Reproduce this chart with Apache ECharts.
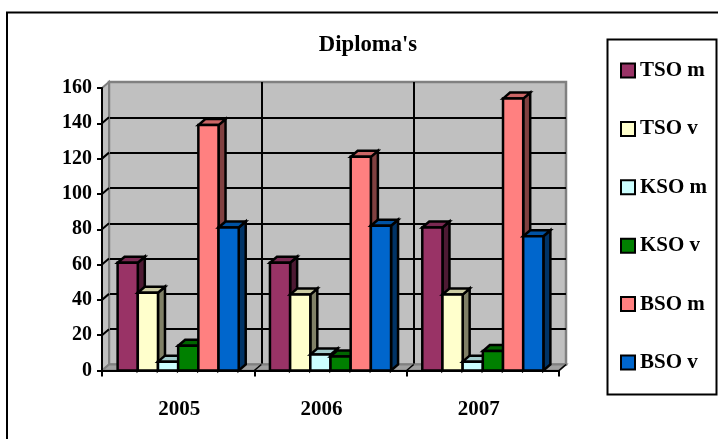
<!DOCTYPE html>
<html><head><meta charset="utf-8">
<style>html,body{margin:0;padding:0;background:#fff}#c{width:718px;height:439px}</style>
<script src="https://cdn.jsdelivr.net/npm/echarts@6/dist/echarts.min.js"></script>
</head><body><div id="c"></div>
<script>
const categories = ['2005','2006','2007'];
const seriesNames = ['TSO m','TSO v','KSO m','KSO v','BSO m','BSO v'];
const tsoM = [61,61,81];
const tsoV = [44,43,43];
const ksoM = [5,9,5];
const ksoV = [14,8,11];
const bsoM = [139,121,154];
const bsoV = [81,82,76];
const allValues = [tsoM,tsoV,ksoM,ksoV,bsoM,bsoV];
const fronts = ['#993366','#FFFFCC','#CCFFFF','#008000','#FF8080','#0066CC'];
const sides  = ['#4D1A33','#808066','#668080','#004000','#804040','#003366'];
const tops   = ['#7A2952','#CCCCA3','#A3CCCC','#006600','#CC6666','#0052A3'];
const yMax = 160, yStep = 20;
const serif = '"Liberation Serif","Times New Roman",serif';
const DX = 7, DY = -6, BX = 7, BY = -6;

const chart = echarts.init(document.getElementById('c'), null, {renderer:'canvas'});

function frameItem(params, api){
  const c = params.coordSys;
  const x0 = c.x, x1 = c.x + c.width, yb = c.y + c.height, yt = c.y;
  const kids = [
    {type:'polygon',shape:{points:[[x0,yt],[x0+DX,yt+DY],[x0+DX,yb+DY],[x0,yb]]},style:{fill:'#C0C0C0',stroke:'#808080',lineWidth:2}},
    {type:'polygon',shape:{points:[[x0,yb],[x0+DX,yb+DY],[x1+DX,yb+DY],[x1,yb]]},style:{fill:'#A0A0A0',stroke:'#808080',lineWidth:2}}
  ];
  for(let v=yStep; v<=yMax-yStep; v+=yStep){
    const p = api.coord([0,v]);
    kids.push({type:'line',shape:{x1:x0,y1:p[1],x2:x0+DX,y2:p[1]+DY},style:{stroke:'#000',lineWidth:2}});
  }
  const catW = api.size([1,0])[0];
  for(let i=1;i<=categories.length;i++){
    const x = x0 + i*catW;
    kids.push({type:'line',shape:{x1:x,y1:yb,x2:x+DX,y2:yb+DY},style:{stroke:'#000',lineWidth:1.5}});
  }
  return {type:'group',children:kids};
}
function barItem(si){
  return function(params, api){
    const ci = api.value(0), v = api.value(1);
    const c = api.coord([ci,v]), b = api.coord([ci,0]);
    const catW = api.size([1,0])[0];
    const w = catW * 0.1325;
    const xl = c[0] + (si-3)*w, xr = xl + w;
    const yt = c[1], yb = b[1];
    const stk = {stroke:'#000',lineWidth:2.5,lineJoin:'miter'};
    return {type:'group',children:[
      {type:'polygon',shape:{points:[[xr,yt],[xr+BX,yt+BY],[xr+BX,yb+BY],[xr,yb]]},style:Object.assign({fill:sides[si]},stk)},
      {type:'polygon',shape:{points:[[xl,yt],[xl+BX,yt+BY],[xr+BX,yt+BY],[xr,yt]]},style:Object.assign({fill:tops[si]},stk)},
      {type:'rect',shape:{x:xl,y:yt,width:w,height:yb-yt},style:Object.assign({fill:fronts[si]},stk)}
    ]};
  };
}
const series = [{
  type:'custom',xAxisIndex:0,yAxisIndex:0,silent:true,clip:false,z:1,
  renderItem:frameItem,data:[[0,0]],tooltip:{show:false}
}];
seriesNames.forEach((n,si)=>{
  series.push({
    name:n,type:'custom',xAxisIndex:0,yAxisIndex:0,clip:false,z:3+si,
    itemStyle:{color:fronts[si],borderColor:'#000',borderWidth:2},
    renderItem:barItem(si),
    encode:{x:0,y:1},
    data:categories.map((c,i)=>[i,allValues[si][i]])
  });
});
chart.setOption({
  animation:false,
  backgroundColor:'#fff',
  title:{text:"Diploma's",left:363,top:29,textAlign:'center',
    textStyle:{fontFamily:serif,fontWeight:'bold',fontSize:22.7,color:'#000'}},
  legend:{orient:'vertical',left:615,top:55,itemWidth:14,itemHeight:14,itemGap:37.4,
    icon:'rect',
    data:seriesNames,selectedMode:false,
    textStyle:{fontFamily:serif,fontWeight:'bold',fontSize:21,color:'#000',padding:[0,0,0,0]}},
  grid:[
    {left:102,top:88,width:457,height:282.5,show:false,z:2},
    {left:109,top:82,width:457,height:282.5,show:true,backgroundColor:'#C0C0C0',borderColor:'#808080',borderWidth:2.5,z:0}
  ],
  xAxis:[
    {type:'category',gridIndex:0,data:categories,z:10,
      axisLine:{lineStyle:{color:'#000',width:2}},
      axisTick:{show:true,length:6,alignWithLabel:false,lineStyle:{color:'#000',width:2}},
      axisLabel:{fontFamily:serif,fontWeight:'bold',fontSize:21,color:'#000',margin:29,
        formatter:(v,i)=>'{c'+i+'|'+v+'}',
        rich:{
          c0:{fontFamily:serif,fontWeight:'bold',fontSize:21,padding:[0,2,0,4]},
          c1:{fontFamily:serif,fontWeight:'bold',fontSize:21,padding:[0,18,0,0]},
          c2:{fontFamily:serif,fontWeight:'bold',fontSize:21,padding:[0,8,0,0]}
        }},
      splitLine:{show:false}},
    {type:'category',gridIndex:1,data:categories,z:0,
      axisLine:{show:false},axisTick:{show:false},axisLabel:{show:false},
      splitLine:{show:true,showMinLine:false,showMaxLine:false,lineStyle:{color:'#000',width:2}}}
  ],
  yAxis:[
    {type:'value',gridIndex:0,min:0,max:yMax,interval:yStep,z:10,
      axisLine:{show:true,lineStyle:{color:'#000',width:2}},
      axisTick:{show:true,length:5,lineStyle:{color:'#000',width:2}},
      axisLabel:{fontFamily:serif,fontWeight:'bold',fontSize:20,color:'#000',margin:10},
      splitLine:{show:false}},
    {type:'value',gridIndex:1,min:0,max:yMax,interval:yStep,z:0,
      axisLine:{show:false},axisTick:{show:false},axisLabel:{show:false},
      splitLine:{show:true,showMinLine:false,showMaxLine:false,lineStyle:{color:'#000',width:2}}}
  ],
  graphic:[
    {type:'rect',z:-1,shape:{x:7,y:12.5,width:760,height:480},style:{fill:'none',stroke:'#000',lineWidth:2}},
    {type:'rect',z:-1,shape:{x:607.5,y:39.5,width:109,height:355},style:{fill:'#fff',stroke:'#000',lineWidth:2}}
  ],
  series
});
</script></body></html>
